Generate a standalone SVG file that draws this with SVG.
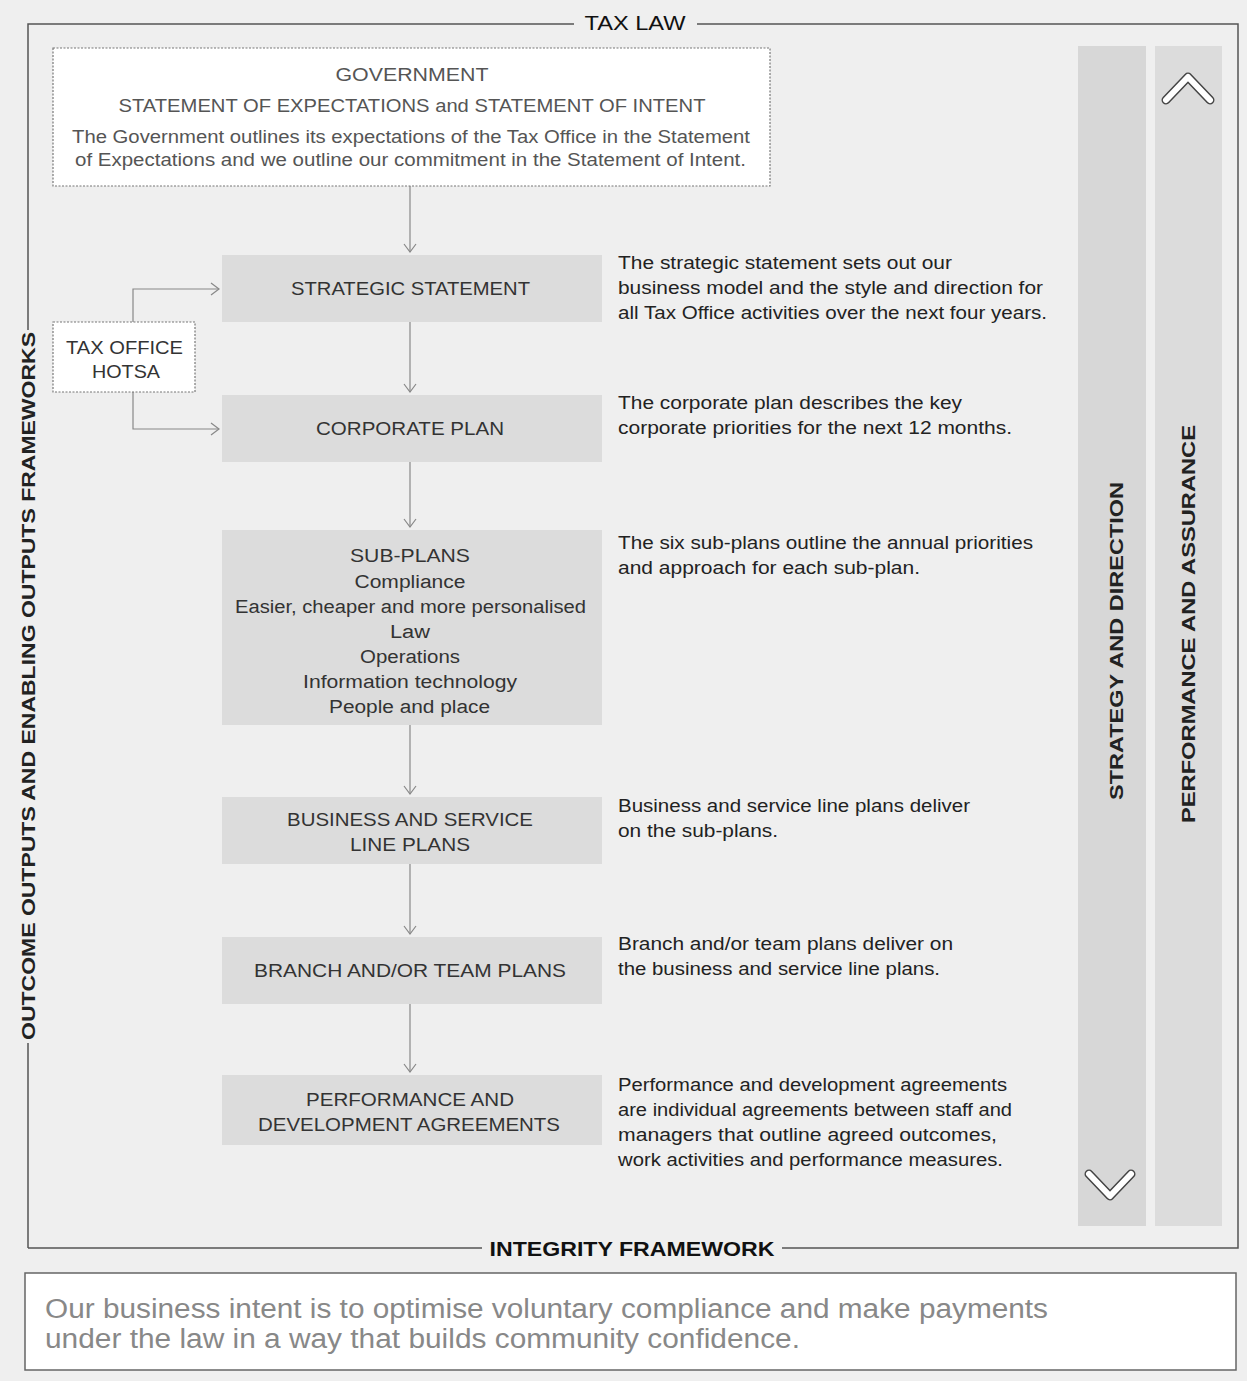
<svg xmlns="http://www.w3.org/2000/svg" width="1247" height="1381" viewBox="0 0 1247 1381">
<defs>
<style>
text{font-family:"Liberation Sans",Arial,sans-serif}
.frame{stroke:#555;stroke-width:1.5;fill:none}
.box{fill:#dcdcdc}
.wbox{fill:#fff;stroke:#777;stroke-width:1.2;stroke-dasharray:2 1.5}
.lbl{font-size:18px;fill:#333;text-anchor:middle}
.gov{font-size:17.5px;fill:#555;text-anchor:middle}
.desc{font-size:17.5px;fill:#222}
.title{font-size:20px;fill:#111;text-anchor:middle}
.vert{font-size:19px;fill:#222;text-anchor:middle;font-weight:bold}
.conn{stroke:#888;stroke-width:1.2;fill:none}
.chev{fill:none;stroke-linecap:round;stroke-linejoin:round}
</style>
<marker id="arr" markerWidth="14" markerHeight="14" refX="10" refY="7" orient="auto" markerUnits="userSpaceOnUse">
<path d="M2,1 L10,7 L2,13" fill="none" stroke="#888" stroke-width="1.2"/>
</marker>
</defs>
<rect width="1247" height="1381" fill="#efefef"/>

<g id="frame">
<path class="frame" d="M28,1248 V1043 M28,330 V24 H574 M697,24 H1238 V1248 H782 M482,1248 H28"/>
<text class="title" x="635" y="30" textLength="101" lengthAdjust="spacingAndGlyphs">TAX LAW</text>
<text class="title" x="632" y="1256" font-weight="bold" textLength="285" lengthAdjust="spacingAndGlyphs">INTEGRITY FRAMEWORK</text>
<text class="vert" transform="translate(35,686) rotate(-90)" font-size="18" textLength="708" lengthAdjust="spacingAndGlyphs">OUTCOME OUTPUTS AND ENABLING OUTPUTS FRAMEWORKS</text>
</g>

<g id="side-columns">
<rect x="1078" y="46" width="68" height="1180" fill="#d7d7d7"/>
<rect x="1155" y="46" width="67" height="1180" fill="#dcdcdc"/>
<text class="vert" transform="translate(1123,641) rotate(-90)" textLength="318" lengthAdjust="spacingAndGlyphs">STRATEGY AND DIRECTION</text>
<text class="vert" transform="translate(1195,624) rotate(-90)" textLength="398" lengthAdjust="spacingAndGlyphs">PERFORMANCE AND ASSURANCE</text>
<path class="chev" d="M1166,100 L1188,77 L1210,100" stroke="#444" stroke-width="9"/>
<path class="chev" d="M1166,100 L1188,77 L1210,100" stroke="#fff" stroke-width="6"/>
<path class="chev" d="M1089,1174 L1110,1196 L1131,1174" stroke="#444" stroke-width="9"/>
<path class="chev" d="M1089,1174 L1110,1196 L1131,1174" stroke="#fff" stroke-width="6"/>
</g>

<g id="connectors">
<path class="conn" d="M410,186 V252" marker-end="url(#arr)"/>
<path class="conn" d="M410,322 V392" marker-end="url(#arr)"/>
<path class="conn" d="M410,462 V527" marker-end="url(#arr)"/>
<path class="conn" d="M410,725 V794" marker-end="url(#arr)"/>
<path class="conn" d="M410,864 V934" marker-end="url(#arr)"/>
<path class="conn" d="M410,1004 V1072" marker-end="url(#arr)"/>
<path class="conn" d="M133,322 V289 H219" marker-end="url(#arr)"/>
<path class="conn" d="M133,392 V429 H219" marker-end="url(#arr)"/>
</g>

<g id="government">
<rect class="wbox" x="53" y="48" width="717" height="138"/>
<text class="gov" x="412" y="81" textLength="153" lengthAdjust="spacingAndGlyphs">GOVERNMENT</text>
<text class="gov" x="412" y="112" textLength="587" lengthAdjust="spacingAndGlyphs">STATEMENT OF EXPECTATIONS and STATEMENT OF INTENT</text>
<text class="gov" x="411" y="143" textLength="678" lengthAdjust="spacingAndGlyphs">The Government outlines its expectations of the Tax Office in the Statement</text>
<text class="gov" x="410.5" y="166" textLength="671" lengthAdjust="spacingAndGlyphs">of Expectations and we outline our commitment in the Statement of Intent.</text>
</g>

<g id="hotsa">
<rect class="wbox" x="53" y="322" width="142" height="70"/>
<text class="lbl" x="124.5" y="354" textLength="117" lengthAdjust="spacingAndGlyphs">TAX OFFICE</text>
<text class="lbl" x="126" y="378" textLength="68" lengthAdjust="spacingAndGlyphs">HOTSA</text>
</g>

<g id="strategic-statement">
<rect class="box" x="222" y="255" width="380" height="67"/>
<text class="lbl" x="410.5" y="295" textLength="239" lengthAdjust="spacingAndGlyphs">STRATEGIC STATEMENT</text>
<text class="desc" x="618" y="269" textLength="334" lengthAdjust="spacingAndGlyphs">The strategic statement sets out our</text>
<text class="desc" x="618" y="294" textLength="425" lengthAdjust="spacingAndGlyphs">business model and the style and direction for</text>
<text class="desc" x="618" y="319" textLength="429" lengthAdjust="spacingAndGlyphs">all Tax Office activities over the next four years.</text>
</g>

<g id="corporate-plan">
<rect class="box" x="222" y="395" width="380" height="67"/>
<text class="lbl" x="410" y="435" textLength="188" lengthAdjust="spacingAndGlyphs">CORPORATE PLAN</text>
<text class="desc" x="618" y="409" textLength="344" lengthAdjust="spacingAndGlyphs">The corporate plan describes the key</text>
<text class="desc" x="618" y="434" textLength="394" lengthAdjust="spacingAndGlyphs">corporate priorities for the next 12 months.</text>
</g>

<g id="sub-plans">
<rect class="box" x="222" y="530" width="380" height="195"/>
<text class="lbl" x="410" y="562" textLength="120" lengthAdjust="spacingAndGlyphs">SUB-PLANS</text>
<text class="lbl" x="410" y="588" textLength="111" lengthAdjust="spacingAndGlyphs">Compliance</text>
<text class="lbl" x="410.5" y="613" textLength="351" lengthAdjust="spacingAndGlyphs">Easier, cheaper and more personalised</text>
<text class="lbl" x="410" y="638" textLength="40" lengthAdjust="spacingAndGlyphs">Law</text>
<text class="lbl" x="410" y="663" textLength="100" lengthAdjust="spacingAndGlyphs">Operations</text>
<text class="lbl" x="410" y="688" textLength="214" lengthAdjust="spacingAndGlyphs">Information technology</text>
<text class="lbl" x="409.5" y="713" textLength="161" lengthAdjust="spacingAndGlyphs">People and place</text>
<text class="desc" x="618" y="549" textLength="415" lengthAdjust="spacingAndGlyphs">The six sub-plans outline the annual priorities</text>
<text class="desc" x="618" y="574" textLength="302" lengthAdjust="spacingAndGlyphs">and approach for each sub-plan.</text>
</g>

<g id="business-service-line">
<rect class="box" x="222" y="797" width="380" height="67"/>
<text class="lbl" x="410" y="826" textLength="246" lengthAdjust="spacingAndGlyphs">BUSINESS AND SERVICE</text>
<text class="lbl" x="410" y="851" textLength="120" lengthAdjust="spacingAndGlyphs">LINE PLANS</text>
<text class="desc" x="618" y="812" textLength="352" lengthAdjust="spacingAndGlyphs">Business and service line plans deliver</text>
<text class="desc" x="618" y="837" textLength="160" lengthAdjust="spacingAndGlyphs">on the sub-plans.</text>
</g>

<g id="branch-team">
<rect class="box" x="222" y="937" width="380" height="67"/>
<text class="lbl" x="410" y="977" textLength="312" lengthAdjust="spacingAndGlyphs">BRANCH AND/OR TEAM PLANS</text>
<text class="desc" x="618" y="950" textLength="335" lengthAdjust="spacingAndGlyphs">Branch and/or team plans deliver on</text>
<text class="desc" x="618" y="975" textLength="322" lengthAdjust="spacingAndGlyphs">the business and service line plans.</text>
</g>

<g id="performance-development">
<rect class="box" x="222" y="1075" width="380" height="70"/>
<text class="lbl" x="410" y="1106" textLength="208" lengthAdjust="spacingAndGlyphs">PERFORMANCE AND</text>
<text class="lbl" x="409" y="1131" textLength="302" lengthAdjust="spacingAndGlyphs">DEVELOPMENT AGREEMENTS</text>
<text class="desc" x="618" y="1091" textLength="389" lengthAdjust="spacingAndGlyphs">Performance and development agreements</text>
<text class="desc" x="618" y="1116" textLength="394" lengthAdjust="spacingAndGlyphs">are individual agreements between staff and</text>
<text class="desc" x="618" y="1141" textLength="379" lengthAdjust="spacingAndGlyphs">managers that outline agreed outcomes,</text>
<text class="desc" x="618" y="1166" textLength="385" lengthAdjust="spacingAndGlyphs">work activities and performance measures.</text>
</g>

<g id="business-intent">
<rect x="25" y="1273" width="1211" height="97" fill="#fff" stroke="#666" stroke-width="1.5"/>
<text font-size="27" fill="#888" x="45" y="1318" textLength="1003" lengthAdjust="spacingAndGlyphs">Our business intent is to optimise voluntary compliance and make payments</text>
<text font-size="27" fill="#888" x="45" y="1348" textLength="755" lengthAdjust="spacingAndGlyphs">under the law in a way that builds community confidence.</text>
</g>
</svg>
